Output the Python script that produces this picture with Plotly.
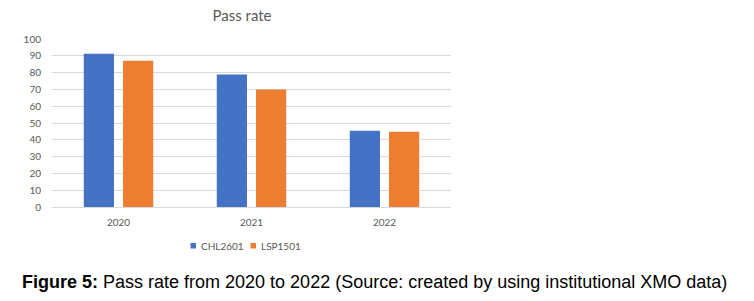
import plotly.graph_objects as go

years = ["2020", "2021", "2022"]
chl2601 = [91.2, 78.8, 45.4]
lsp1501 = [87.1, 69.9, 44.8]
y_ticks = list(range(0, 101, 10))
series_names = ["CHL2601", "LSP1501"]
colors = ["#4472C4", "#ED7D31"]
caption_bold = "Figure 5:"
caption_rest = " Pass rate from 2020 to 2022 (Source: created by using institutional XMO data)"

W, H = 754, 301
L, T = 52, 39
plot_w, plot_h = 399, 168
R = W - L - plot_w
B = H - T - plot_h

def px_x(px):
    return (px - L) / plot_w

def px_y(py):
    return (T + plot_h - py) / plot_h

fig = go.Figure()
for name, vals, col in zip(series_names, [chl2601, lsp1501], colors):
    fig.add_trace(go.Bar(x=years, y=vals, name=name,
                         marker=dict(color=col, line=dict(width=0))))

gray = "#595959"

# legend drawn as small swatches + labels (reference uses tiny square keys)
legend_shapes = []
legend_annots = []
key_lefts = [190.5, 250.5]
for name, col, kx in zip(series_names, colors, key_lefts):
    legend_shapes.append(dict(type="rect", xref="paper", yref="paper",
                              x0=px_x(kx), x1=px_x(kx + 5.5),
                              y0=px_y(248.5), y1=px_y(243),
                              fillcolor=col, line=dict(width=0)))
    legend_annots.append(dict(text=name, xref="paper", yref="paper",
                              x=px_x(kx + 8), xanchor="left",
                              y=px_y(245.5), yanchor="middle", showarrow=False,
                              font=dict(size=10, color=gray,
                                        family="Lato, Open Sans, sans-serif")))

fig.update_layout(
    width=W, height=H,
    margin=dict(l=L, r=R, t=T, b=B),
    paper_bgcolor="white", plot_bgcolor="white",
    barmode="group", bargap=0.41, bargroupgap=0.23,
    font=dict(family="Lato, Open Sans, sans-serif", size=10, color=gray),
    title=dict(text="Pass rate", x=242 / W, xanchor="center", xref="container",
               y=1 - 16 / H, yanchor="middle", yref="container",
               font=dict(size=15, color=gray, family="Lato, sans-serif")),
    showlegend=False,
    xaxis=dict(showgrid=False, showline=True, linecolor="#D9D9D9", linewidth=1,
               ticks="", tickfont=dict(size=10, color=gray), ticklabelstandoff=6,
               fixedrange=True),
    yaxis=dict(range=[0, 100], tickvals=y_ticks, showgrid=True, gridcolor="#D9D9D9",
               gridwidth=1, zeroline=False, showline=False, ticks="",
               tickfont=dict(size=10, color=gray), ticklabelstandoff=10,
               fixedrange=True),
    shapes=legend_shapes,
    annotations=legend_annots + [dict(text="<b>" + caption_bold + "</b>" + caption_rest,
                      xref="paper", yref="paper",
                      x=px_x(20), xanchor="left",
                      y=px_y(282), yanchor="middle",
                      showarrow=False,
                      font=dict(family="Liberation Sans, Arial, sans-serif", size=18, color="black"))],
)

fig.write_html("out.html",
               config={"displayModeBar": False, "staticPlot": True},
               post_script="document.body.style.margin='0';document.body.style.overflow='hidden';")
